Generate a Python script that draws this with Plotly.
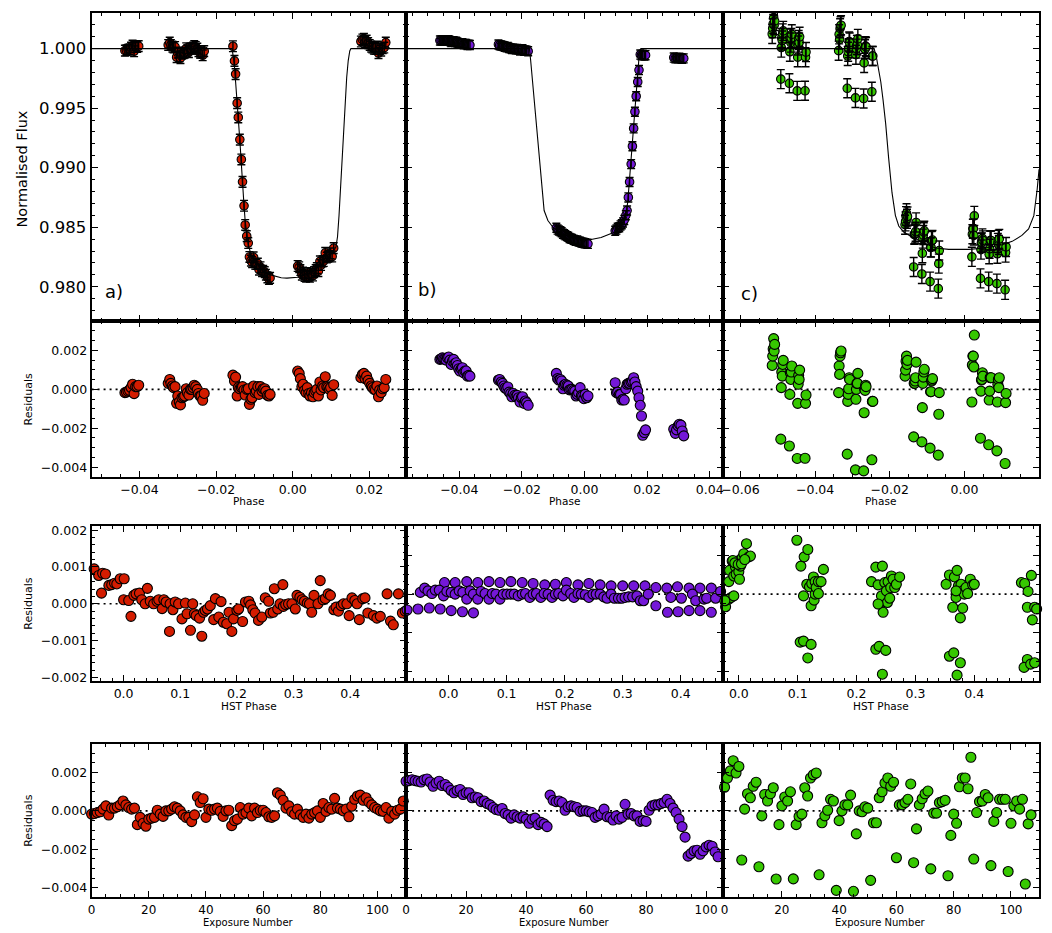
import plotly.graph_objects as go

# ======================= DATA =======================
# ---- a) red ----
RED_PHASE = [-0.0438, -0.0434, -0.0430, -0.0426, -0.0422, -0.0418, -0.0414, -0.0410, -0.0406, -0.0402,
             -0.0325, -0.0321, -0.0318, -0.0314, -0.0311, -0.0307, -0.0303, -0.0300, -0.0296, -0.0293,
             -0.0289, -0.0285, -0.0282, -0.0278, -0.0275, -0.0271, -0.0267, -0.0264, -0.0260, -0.0257,
             -0.0253, -0.0249, -0.0246, -0.0242, -0.0239, -0.0235, -0.0231,
             -0.0156, -0.0152, -0.0149, -0.0145, -0.0142, -0.0138, -0.0134, -0.0131, -0.0127, -0.0124,
             -0.0120, -0.0116, -0.0113, -0.0109, -0.0106, -0.0102, -0.0098, -0.0095, -0.0091, -0.0088,
             -0.0084, -0.0080, -0.0077, -0.0073, -0.0070, -0.0066, -0.0062, -0.0059,
             0.0013, 0.0017, 0.0020, 0.0024, 0.0027, 0.0031, 0.0035, 0.0038, 0.0042, 0.0045,
             0.0049, 0.0053, 0.0056, 0.0060, 0.0063, 0.0067, 0.0071, 0.0074, 0.0078, 0.0081,
             0.0085, 0.0089, 0.0092, 0.0096, 0.0099, 0.0103, 0.0107,
             0.0178, 0.0182, 0.0186, 0.0189, 0.0193, 0.0197, 0.0201, 0.0205, 0.0208, 0.0212,
             0.0216, 0.0220, 0.0224, 0.0227, 0.0231, 0.0235, 0.0239, 0.0243]
RED_FLUX = [0.99983, 0.99986, 0.99991, 0.99995, 1.00009, 1.00026, 0.99978, 1.00014, 1.00014, 1.00021,
            1.00031, 1.00051, 1.00031, 1.00017, 1.00009, 1.00014, 0.99928, 0.99966, 0.99935, 0.99920,
            0.99957, 0.99962, 0.99966, 1.00003, 0.99983, 0.99971, 1.00000, 1.00000, 1.00009, 1.00021,
            1.00014, 1.00000, 0.99979, 0.99966, 0.99966, 0.99944, 0.99979,
            1.00020, 0.99897, 0.99786, 0.99542, 0.99422, 0.99236, 0.99069, 0.98881, 0.98680, 0.98519,
            0.98425, 0.98367, 0.98250, 0.98219, 0.98207, 0.98247, 0.98193, 0.98191, 0.98194, 0.98144,
            0.98164, 0.98131, 0.98133, 0.98123, 0.98101, 0.98079, 0.98066, 0.98074,
            0.98174, 0.98164, 0.98140, 0.98102, 0.98118, 0.98091, 0.98084, 0.98115, 0.98091, 0.98084,
            0.98108, 0.98094, 0.98123, 0.98139, 0.98156, 0.98131, 0.98213, 0.98182, 0.98213, 0.98216,
            0.98284, 0.98245, 0.98253, 0.98257, 0.98280, 0.98254, 0.98324,
            1.00060, 1.00077, 1.00082, 1.00055, 1.00068, 1.00046, 1.00031, 1.00017, 1.00009, 1.00000,
            0.99997, 1.00017, 0.99962, 0.99997, 0.99983, 1.00003, 1.00009, 1.00051]
RED_RES = [-0.00017, -0.00014, -0.00009, -0.00005, 0.00009, 0.00026, -0.00022, 0.00014, 0.00014, 0.00021,
           0.00031, 0.00051, 0.00031, 0.00017, 0.00009, 0.00014, -0.00072, -0.00034, -0.00065, -0.00080,
           -0.00043, -0.00038, -0.00034, 0.00003, -0.00017, -0.00029, 0.00000, 0.00000, 0.00009, 0.00021,
           0.00014, 0.00000, -0.00021, -0.00034, -0.00034, -0.00056, -0.00021, 0.00073, 0.00043, 0.00063,
           -0.00034, 0.00009, 0.00003, 0.00009, 0.00014, -0.00003, -0.00029, 0.00000, 0.00003, -0.00077,
           -0.00051, -0.00043, 0.00017, -0.00017, -0.00009, 0.00014, -0.00026, 0.00014, -0.00009, 0.00003,
           0.00003, -0.00009, -0.00031, -0.00034, -0.00026, 0.00094, 0.00082, 0.00055, 0.00014, 0.00026,
           -0.00005, -0.00017, 0.00009, -0.00021, -0.00034, -0.00017, -0.00038, -0.00017, -0.00009, 0.00000,
           -0.00034, 0.00038, -0.00003, 0.00017, 0.00009, 0.00065, 0.00014, 0.00009, 0.00000, 0.00009,
           -0.00031, 0.00024, 0.00060, 0.00077, 0.00082, 0.00055, 0.00068, 0.00046, 0.00031, 0.00017,
           0.00009, 0.00000, -0.00003, 0.00017, -0.00038, -0.00003, -0.00017, 0.00003, 0.00009, 0.00051]
RED_MODEL_PHASE = [-0.0525, -0.0158, -0.0156, -0.0152, -0.0149, -0.0145, -0.0142, -0.0138, -0.0134, -0.0131,
                   -0.0127, -0.0124, -0.0120, -0.0116, -0.0113, -0.0109, -0.0102, -0.0095, -0.0088, -0.0080,
                   -0.0070, -0.0059, -0.0045, -0.0030, -0.0015, 0.0000, 0.0013, 0.0027, 0.0042, 0.0056,
                   0.0071, 0.0085, 0.0099, 0.0107, 0.0113, 0.0117, 0.0121, 0.0125, 0.0129, 0.0133,
                   0.0137, 0.0141, 0.0145, 0.0149, 0.0152, 0.0296]
RED_MODEL_FLUX = [1.0, 1.0, 0.9995, 0.9985, 0.9972, 0.9958, 0.9941, 0.9923, 0.9906, 0.9887,
                  0.9868, 0.9855, 0.9843, 0.9836, 0.9832, 0.9827, 0.9823, 0.9820, 0.9817, 0.9814,
                  0.9811, 0.9810, 0.98085, 0.98075, 0.98072, 0.98073, 0.98080, 0.98092, 0.98112, 0.98140,
                  0.98175, 0.98219, 0.98271, 0.98300, 0.98335, 0.9842, 0.9860, 0.9884, 0.9910, 0.9936,
                  0.9958, 0.9976, 0.9990, 0.9998, 1.0, 1.0]
RED_HST_PHASE = [-0.057, -0.052, -0.044, -0.039, -0.037, -0.032, -0.026, -0.021, -0.016, -0.012,
                 -0.006, 0.001, 0.000, 0.009, 0.013, 0.018, 0.022, 0.028, 0.032, 0.038,
                 0.042, 0.047, 0.053, 0.059, 0.062, 0.068, 0.071, 0.075, 0.081, 0.082,
                 0.087, 0.091, 0.097, 0.103, 0.109, 0.112, 0.118, 0.122, 0.125, 0.128,
                 0.134, 0.138, 0.141, 0.144, 0.148, 0.153, 0.159, 0.162, 0.168, 0.172,
                 0.176, 0.182, 0.186, 0.191, 0.194, 0.200, 0.203, 0.210, 0.215, 0.221,
                 0.224, 0.228, 0.232, 0.238, 0.244, 0.250, 0.256, 0.259, 0.264, 0.266,
                 0.272, 0.276, 0.281, 0.282, 0.286, 0.291, 0.297, 0.303, 0.306, 0.311,
                 0.315, 0.319, 0.324, 0.328, 0.332, 0.336, 0.343, 0.347, 0.352, 0.356,
                 0.361, 0.365, 0.371, 0.375, 0.379, 0.384, 0.388, 0.394, 0.398, 0.403,
                 0.408, 0.412, 0.416, 0.422, 0.426, 0.431, 0.441, 0.447, 0.453, 0.465,
                 0.471, 0.476, 0.485, 0.492, 0.497, 0.501]
RED_HST_RES = [0.00036, 0.00095, 0.00077, 0.00029, 0.00083, 0.00081, 0.00050, 0.00052, 0.00056, 0.00054,
               0.00068, 0.00068, 0.00011, 0.00009, -0.00034, 0.00023, 0.00027, 0.00029, 0.00011, 0.00000,
               0.00042, 0.00007, 0.00000, 0.00007, 0.00011, -0.00013, 0.00011, 0.00005, -0.00075, 0.00000,
               -0.00016, 0.00005, 0.00000, -0.00041, 0.00002, -0.00027, -0.00072, 0.00000, -0.00027, -0.00032,
               -0.00039, -0.00088, -0.00023, -0.00018, -0.00014, -0.00005, -0.00043, 0.00014, -0.00036, 0.00006,
               -0.00050, -0.00054, -0.00023, -0.00075, -0.00041, -0.00018, -0.00014, -0.00048, 0.00005, 0.00007,
               -0.00003, -0.00016, -0.00025, -0.00045, -0.00036, 0.00016, 0.00007, -0.00025, -0.00023, 0.00041,
               -0.00014, 0.00000, 0.00052, -0.00007, -0.00002, 0.00000, 0.00000, -0.00014, 0.00023, 0.00018,
               0.00011, 0.00007, 0.00002, 0.00000, -0.00023, 0.00023, 0.00000, 0.00063, 0.00011, 0.00014,
               0.00027, 0.00023, -0.00016, -0.00009, -0.00020, -0.00005, 0.00000, 0.00000, -0.00032, 0.00016,
               0.00009, 0.00000, -0.00043, 0.00014, 0.00016, -0.00025, -0.00032, -0.00039, -0.00034, 0.00027,
               -0.00047, -0.00057, 0.00027, -0.00025, -0.00020, 0.00027]
RED_ERR = 0.00045

# ---- b) purple ----
PUR_PHASE = [-0.0462, -0.0458, -0.0454, -0.0450, -0.0446, -0.0442, -0.0438, -0.0434, -0.0430, -0.0426,
             -0.0422, -0.0418, -0.0414, -0.0410, -0.0406, -0.0402, -0.0398, -0.0394, -0.0390, -0.0386,
             -0.0382, -0.0378, -0.0374, -0.0370, -0.0366,
             -0.0275, -0.0271, -0.0266, -0.0262, -0.0258, -0.0254, -0.0249, -0.0245, -0.0241, -0.0236,
             -0.0232, -0.0228, -0.0223, -0.0219, -0.0215, -0.0211, -0.0206, -0.0202, -0.0198, -0.0193,
             -0.0189, -0.0185, -0.0180,
             -0.0090, -0.0086, -0.0082, -0.0077, -0.0073, -0.0069, -0.0065, -0.0061, -0.0056, -0.0052,
             -0.0048, -0.0044, -0.0040, -0.0035, -0.0031, -0.0027, -0.0023, -0.0019, -0.0014, -0.0010,
             -0.0006, -0.0002, 0.0002, 0.0007, 0.0011,
             0.0098, 0.0102, 0.0106, 0.0111, 0.0115, 0.0119, 0.0123, 0.0127, 0.0132, 0.0136,
             0.0140, 0.0144, 0.0149, 0.0153, 0.0157, 0.0161, 0.0165, 0.0170, 0.0174, 0.0178,
             0.0182, 0.0186, 0.0191, 0.0195,
             0.0285, 0.0290, 0.0294, 0.0299, 0.0303, 0.0308, 0.0312, 0.0317]
PUR_FLUX = [1.00068, 1.00069, 1.00071, 1.00069, 1.00067, 1.00066, 1.00069, 1.00070, 1.00064, 1.00056,
            1.00061, 1.00063, 1.00056, 1.00057, 1.00052, 1.00046, 1.00042, 1.00045, 1.00046, 1.00037,
            1.00040, 1.00039, 1.00031, 1.00032, 1.00030,
            1.00035, 1.00028, 1.00027, 1.00023, 1.00020, 1.00015, 1.00011, 1.00013, 1.00005, 1.00002,
            0.99997, 1.00000, 0.99997, 0.99995, 0.99997, 0.99993, 0.99985, 0.99992, 0.99994, 0.99982,
            0.99985, 0.99983, 0.99978,
            0.98495, 0.98480, 0.98472, 0.98466, 0.98458, 0.98445, 0.98440, 0.98432, 0.98425, 0.98420,
            0.98410, 0.98405, 0.98402, 0.98395, 0.98390, 0.98385, 0.98388, 0.98380, 0.98378, 0.98372,
            0.98370, 0.98368, 0.98365, 0.98362, 0.98360,
            0.98470, 0.98480, 0.98495, 0.98500, 0.98515, 0.98525, 0.98540, 0.98560, 0.98600, 0.98640,
            0.98750, 0.98880, 0.99030, 0.99180, 0.99330, 0.99470, 0.99600, 0.99720, 0.99820, 0.99950,
            0.99945, 0.99948, 0.99942, 0.99945,
            0.99925, 0.99920, 0.99922, 0.99918, 0.99924, 0.99920, 0.99915, 0.99918]
PUR_RES = [0.00154, 0.00157, 0.00162, 0.00157, 0.00154, 0.00150, 0.00162, 0.00166, 0.00150, 0.00128,
           0.00145, 0.00154, 0.00132, 0.00137, 0.00123, 0.00106, 0.00094, 0.00106, 0.00111, 0.00085,
           0.00094, 0.00094, 0.00068, 0.00072, 0.00068, 0.00048, 0.00051, 0.00038, 0.00031, 0.00017,
           0.00007, 0.00003, 0.00012, -0.00014, -0.00021, -0.00038, -0.00021, -0.00031, -0.00038, -0.00031,
           -0.00043, -0.00065, -0.00043, -0.00038, -0.00072, -0.00060, -0.00068, -0.00082,
           0.00082, 0.00055, 0.00048, 0.00051, 0.00043, 0.00003, 0.00021, 0.00026, 0.00021, 0.00017,
           -0.00003, 0.00000, 0.00000, -0.00005, -0.00009, -0.00034, -0.00026, -0.00017, 0.00009, -0.00031,
           -0.00034, -0.00048, -0.00026, -0.00043, -0.00034,
           0.00034, -0.00017, -0.00014, -0.00026, -0.00026, -0.00055, -0.00051, -0.00055,
           0.00003, 0.00026, 0.00031, 0.00031, 0.00038, 0.00043, 0.00060, 0.00038, 0.00014, -0.00009,
           -0.00043, -0.00082, -0.00137, -0.00236, -0.00222, -0.00208,
           -0.00205, -0.00226, -0.00208, -0.00188, -0.00179, -0.00184, -0.00214, -0.00239]
PUR_MODEL_PHASE = [-0.057, -0.0176, -0.0172, -0.0129, -0.0117, -0.0101, -0.0079, -0.0053, -0.0011, 0.0021,
                   0.0053, 0.0095, 0.0117, 0.0129, 0.0138, 0.0175, 0.0180, 0.0441]
PUR_MODEL_FLUX = [1.0, 1.0, 0.9990, 0.9864, 0.98556, 0.9850, 0.98453, 0.98425, 0.98397, 0.98397,
                  0.98414, 0.98458, 0.9850, 0.9857, 0.98708, 0.99958, 1.0, 1.0]
PUR_HST_PHASE = [-0.0069, 0.0114, 0.0314, 0.0503, 0.0697, 0.0886, 0.1074, 0.1269, 0.1457, 0.1657,
                 0.1840, 0.2029, 0.2229, 0.2417, 0.2611, 0.2800, 0.3000, 0.3189, 0.3383, 0.3571,
                 0.3760, 0.3943, 0.4143, 0.4331, 0.4526,
                 -0.0486, -0.0411, -0.0354, -0.0286, -0.0229, -0.0160, -0.0086, -0.0029, 0.0046, 0.0114,
                 0.0183, 0.0246, 0.0314, 0.0371, 0.0429, 0.0503, 0.0560, 0.0629, 0.0697, 0.0754,
                 0.0817, 0.0886, 0.0943, 0.1006, 0.1074, 0.1131, 0.1200, 0.1269, 0.1326, 0.1400,
                 0.1457, 0.1514, 0.1589, 0.1646, 0.1714, 0.1783, 0.1840, 0.1897, 0.1971, 0.2029,
                 0.2103, 0.2160, 0.2229, 0.2286, 0.2354, 0.2417, 0.2486, 0.2543, 0.2611, 0.2674,
                 0.2731, 0.2800, 0.2857, 0.2926, 0.2983, 0.3040, 0.3103, 0.3171, 0.3246, 0.3303,
                 0.3360, 0.3440, 0.3571, 0.3829, 0.4011, 0.4200, 0.4257, 0.4400, 0.4446, 0.4600,
                 0.4686,
                 -0.0714, -0.0526, -0.0331, -0.0143, 0.0046, 0.0240, 0.0429, 0.3771, 0.3954, 0.4143,
                 0.4331, 0.4526]
PUR_HST_RES = [0.00060, 0.00060, 0.00065, 0.00060, 0.00065, 0.00060, 0.00065, 0.00060, 0.00055, 0.00048,
               0.00051, 0.00060, 0.00048, 0.00055, 0.00048, 0.00043, 0.00043, 0.00043, 0.00043, 0.00034,
               0.00031, 0.00038, 0.00031, 0.00031, 0.00031,
               0.00009, 0.00031, 0.00017, 0.00003, 0.00021, 0.00021, -0.00009, 0.00014, 0.00009, 0.00000,
               0.00017, 0.00009, -0.00026, 0.00017, 0.00000, -0.00026, 0.00014, 0.00003, -0.00026, 0.00003,
               0.00000, -0.00026, 0.00000, 0.00000, 0.00000, 0.00000, -0.00009, 0.00000, 0.00003, -0.00017,
               0.00000, 0.00003, -0.00017, 0.00003, 0.00000, -0.00017, 0.00000, 0.00003, -0.00009, 0.00021,
               0.00003, -0.00017, 0.00003, 0.00000, -0.00003, -0.00017, 0.00000, 0.00000, 0.00000, -0.00014,
               -0.00021, 0.00000, -0.00021, -0.00021, -0.00021, -0.00017, -0.00014, -0.00014, -0.00009, -0.00034,
               -0.00034, 0.00000, -0.00060, -0.00017, -0.00021, 0.00000, -0.00034, -0.00026, -0.00021, -0.00021,
               0.00014,
               -0.00082, -0.00077, -0.00072, -0.00077, -0.00085, -0.00091, -0.00097, -0.00094, -0.00091, -0.00085,
               -0.00085, -0.00094]
PUR_ERR = 0.00038

# ---- c) green ----
GRN_PHASE = [-0.05150, -0.05137, -0.05124, -0.05111, -0.05098, -0.05085,
             -0.04920, -0.04907, -0.04894, -0.04881, -0.04868, -0.04855,
             -0.04690, -0.04677, -0.04664, -0.04651, -0.04638, -0.04625,
             -0.04480, -0.04467, -0.04454, -0.04441, -0.04428, -0.04415,
             -0.04270, -0.04257, -0.04244,
             -0.03370, -0.03357, -0.03344, -0.03331, -0.03318, -0.03305,
             -0.03140, -0.03127, -0.03114, -0.03101, -0.03088, -0.03075,
             -0.02920, -0.02907, -0.02894, -0.02881, -0.02868, -0.02855,
             -0.02700, -0.02687, -0.02674, -0.02661, -0.02648, -0.02635,
             -0.02480, -0.02467, -0.02454,
             -0.01590, -0.01577, -0.01564, -0.01551, -0.01538, -0.01525,
             -0.01360, -0.01347, -0.01334, -0.01321, -0.01308, -0.01295,
             -0.01140, -0.01127, -0.01114, -0.01101, -0.01088, -0.01075,
             -0.00920, -0.00907, -0.00894, -0.00881, -0.00868, -0.00855,
             -0.00700, -0.00687, -0.00674,
             0.00200, 0.00213, 0.00226, 0.00239, 0.00252, 0.00265,
             0.00430, 0.00443, 0.00456, 0.00469, 0.00482, 0.00495,
             0.00650, 0.00663, 0.00676, 0.00689, 0.00702, 0.00715,
             0.00870, 0.00883, 0.00896, 0.00909, 0.00922, 0.00935,
             0.01090, 0.01103, 0.01116]
GRN_FLUX = [1.00123, 1.00171, 1.00208, 1.00261, 1.00197, 1.00231,
            0.99744, 1.00009, 1.00089, 1.00068, 1.00128, 1.00149,
            0.99709, 0.99974, 1.00085, 1.00051, 1.00089, 1.00120,
            0.99645, 0.99928, 1.00026, 1.00072, 1.00051, 1.00099,
            0.99646, 0.99928, 0.99971,
            0.99983, 1.00120, 1.00077, 1.00171, 1.00188, 1.00197,
            0.99667, 0.99938, 0.99974, 1.00003, 1.00060, 1.00051,
            0.99586, 0.99949, 1.00000, 1.00031, 1.00031, 1.00082,
            0.99581, 0.99880, 1.00000, 0.99995, 1.00021, 1.00014,
            0.99638, 0.99938, 0.99938,
            0.98521, 0.98549, 0.98593, 0.98617, 0.98571, 0.98590,
            0.98166, 0.98439, 0.98437, 0.98447, 0.98462, 0.98540,
            0.98107, 0.98281, 0.98404, 0.98434, 0.98458, 0.98470,
            0.98043, 0.98331, 0.98330, 0.98383, 0.98387, 0.98392,
            0.97984, 0.98194, 0.98304,
            0.98251, 0.98441, 0.98487, 0.98487, 0.98431, 0.98595,
            0.98070, 0.98312, 0.98369, 0.98372, 0.98406, 0.98389,
            0.98043, 0.98273, 0.98319, 0.98388, 0.98388, 0.98388,
            0.98026, 0.98277, 0.98368, 0.98393, 0.98351, 0.98402,
            0.97974, 0.98287, 0.98334]
GRN_RES = [0.00123, 0.00171, 0.00208, 0.00261, 0.00197, 0.00231,
           -0.00256, 0.00009, 0.00089, 0.00068, 0.00128, 0.00149,
           -0.00291, -0.00026, 0.00085, 0.00051, 0.00089, 0.00120,
           -0.00355, -0.00072, 0.00026, 0.00072, 0.00051, 0.00099,
           -0.00354, -0.00072, -0.00029,
           -0.00017, 0.00120, 0.00077, 0.00171, 0.00188, 0.00197,
           -0.00333, -0.00062, -0.00026, 0.00003, 0.00060, 0.00051,
           -0.00414, -0.00051, 0.00000, 0.00031, 0.00031, 0.00082,
           -0.00419, -0.00120, 0.00000, -0.00005, 0.00021, 0.00014,
           -0.00362, -0.00062, -0.00062,
           0.00068, 0.00099, 0.00145, 0.00171, 0.00128, 0.00149,
           -0.00244, 0.00031, 0.00031, 0.00043, 0.00060, 0.00140,
           -0.00270, -0.00094, 0.00031, 0.00063, 0.00089, 0.00103,
           -0.00302, -0.00012, -0.00012, 0.00043, 0.00048, 0.00055,
           -0.00338, -0.00128, -0.00017,
           -0.00065, 0.00125, 0.00171, 0.00171, 0.00115, 0.00279,
           -0.00251, -0.00009, 0.00048, 0.00051, 0.00085, 0.00068,
           -0.00285, -0.00055, -0.00009, 0.00060, 0.00060, 0.00060,
           -0.00316, -0.00065, 0.00026, 0.00051, 0.00009, 0.00060,
           -0.00381, -0.00068, -0.00021]
GRN_MODEL_PHASE = [-0.065, -0.0242, -0.0236, -0.0230, -0.0224, -0.0218, -0.0211, -0.0203, -0.0194, -0.0185,
                   -0.0176, -0.0162, -0.0140, -0.0113, -0.0078, -0.0042, 0.0012, 0.0056, 0.0101, 0.0128,
                   0.0154, 0.0172, 0.0186, 0.0195, 0.0200]
GRN_MODEL_FLUX = [1.0, 1.0, 0.9993, 0.9982, 0.9972, 0.9957, 0.9937, 0.9908, 0.9879, 0.9860,
                  0.9851, 0.98458, 0.98417, 0.98375, 0.98325, 0.98314, 0.98314, 0.98325, 0.98353, 0.98381,
                  0.98431, 0.98486, 0.98597, 0.98819, 0.98986]
GRN_HST_PHASE = [-0.0225, -0.0169, -0.0130, -0.0085, -0.0237, -0.0169, -0.0158, -0.0113, -0.0085, -0.0056,
                 -0.0045, -0.0028, 0.0000, 0.0011, 0.0028, 0.0056, 0.0085, 0.0130, 0.0169, 0.0197,
                 -0.0101, -0.0068, -0.0011, 0.0045, 0.0101,
                 0.0986, 0.1054, 0.1110, 0.1172, 0.1099, 0.1155, 0.1200, 0.1228, 0.1239, 0.1268,
                 0.1279, 0.1296, 0.1296, 0.1313, 0.1352, 0.1352, 0.1397, 0.1437, 0.1042, 0.1099,
                 0.1228, 0.1172,
                 0.2254, 0.2327, 0.2439, 0.2366, 0.2394, 0.2423, 0.2451, 0.2479, 0.2507, 0.2524,
                 0.2535, 0.2563, 0.2580, 0.2592, 0.2620, 0.2648, 0.2676, 0.2732, 0.2366, 0.2327,
                 0.2383, 0.2496, 0.2439,
                 0.3521, 0.3577, 0.3662, 0.3707, 0.3634, 0.3690, 0.3730, 0.3763, 0.3803, 0.3775,
                 0.3803, 0.3831, 0.3859, 0.3887, 0.3932, 0.3972, 0.4000, 0.3690, 0.3577, 0.3651,
                 0.3763, 0.3707,
                 0.4800, 0.4856, 0.4913, 0.4969, 0.4901, 0.5025, 0.4986, 0.5059, 0.4901, 0.4845,
                 0.4958, 0.5025]
GRN_HST_RES = [-0.00065, -0.00026, -0.00017, -0.00009, -0.00034, 0.00065, 0.00123, 0.00171, 0.00094, 0.00140,
               0.00103, 0.00171, 0.00116, 0.00077, 0.00145, 0.00188, 0.00209, 0.00261, 0.00193, 0.00197,
               0.00174, 0.00162, 0.00154, 0.00157, 0.00179,
               0.00279, 0.00145, 0.00193, 0.00231, -0.00009, 0.00051, 0.00038, -0.00060, 0.00055, 0.00089,
               -0.00031, 0.00065, 0.00000, 0.00034, 0.00065, 0.00003, 0.00065, 0.00128, -0.00248, -0.00243,
               -0.00260, -0.00330,
               0.00065, 0.00140, 0.00145, 0.00048, -0.00051, -0.00009, -0.00094, 0.00060, 0.00017, -0.00043,
               0.00065, -0.00021, 0.00034, 0.00094, 0.00077, 0.00034, 0.00051, 0.00089, -0.00051, -0.00285,
               -0.00270, -0.00291, -0.00414,
               0.00051, 0.00099, 0.00089, 0.00123, -0.00068, -0.00017, 0.00043, -0.00123, -0.00072, 0.00051,
               0.00017, 0.00000, 0.00034, 0.00003, 0.00077, 0.00048, 0.00051, 0.00017, -0.00321, -0.00304,
               -0.00355, -0.00419,
               0.00060, 0.00055, 0.00014, 0.00097, -0.00068, -0.00068, -0.00133, -0.00077, -0.00338, -0.00379,
               -0.00362, -0.00355]
GRN_ERR = 0.0008

# exposure numbers
RED_EXPO = list(range(len(RED_RES)))
PUR_EXPO = list(range(len(PUR_RES)))
GRN_EXPO = list(range(len(GRN_RES)))

# tick values
FLUX_TICKS = [0.980, 0.985, 0.990, 0.995, 1.000]
RES_TICKS = [-0.004, -0.002, 0.000, 0.002]
HST_RES_TICKS = [-0.002, -0.001, 0.000, 0.001, 0.002]
PHASE_TICKS = [[-0.04, -0.02, 0.00, 0.02], [-0.04, -0.02, 0.00, 0.02, 0.04], [-0.06, -0.04, -0.02, 0.00, 0.02]]
HST_TICKS = [0.0, 0.1, 0.2, 0.3, 0.4]
EXPO_TICKS = [0, 20, 40, 60, 80, 100]

# ======================= STYLE / LAYOUT =======================
W, H = 1052, 933
FONT = 'DejaVu Sans'
COLORS = ['#d41c00', '#7418d8', '#36c800']
COLS = [(88, 404), (404, 722), (722, 1040)]
ROWS = [(9, 320), (320, 477), (527, 683), (746, 901)]

PHASE_RANGE = [[-0.0525, 0.0296], [-0.057, 0.0441], [-0.0648, 0.0200]]
HST_RANGE = [[-0.0565, 0.4985], [-0.0731, 0.472], [-0.0276, 0.510]]
EXPO_RANGE = [[0, 110], [0, 105.5], [-0.7, 109.8]]
FLUX_RANGE = [0.9771, 1.0030]
RES_RANGE = [-0.0045, 0.0035]
HST_RES_RANGE_A = [-0.0021, 0.0021]


def xd(c):
    return [COLS[c][0] / W, COLS[c][1] / W]


def yd(r):
    return [1 - ROWS[r][1] / H, 1 - ROWS[r][0] / H]


def name(r, c):
    i = r * 3 + c + 1
    return ('x' if i == 1 else f'x{i}'), ('y' if i == 1 else f'y{i}'), ('xaxis' if i == 1 else f'xaxis{i}'), ('yaxis' if i == 1 else f'yaxis{i}')


def axis(domain, rng, anchor, tickvals, fmt, minor_dtick, minor_tick0, labels=True, fsize=12.5):
    return dict(domain=domain, range=rng, anchor=anchor, showline=True, linecolor='black', linewidth=1.9,
                mirror='allticks', ticks='inside', ticklen=6, tickwidth=1.4, tickcolor='black',
                showgrid=False, zeroline=False, showticklabels=labels, tickmode='array', tickvals=tickvals,
                tickformat=fmt, tickfont=dict(family=FONT, size=fsize, color='black'),
                minor=dict(ticks='inside', ticklen=3, tickwidth=1.2, tickcolor='black', showgrid=False,
                           tickmode='linear', tick0=minor_tick0, dtick=minor_dtick))


fig = go.Figure()
layout = {}
shapes = []

for r in range(4):
    for c in range(3):
        xn, yn, xk, yk = name(r, c)
        if r == 0:
            layout[xk] = axis(xd(c), PHASE_RANGE[c], yn, PHASE_TICKS[c], '.2f', 0.005, 0, labels=False)
            layout[yk] = axis(yd(r), FLUX_RANGE, xn, FLUX_TICKS, '.3f', 0.001, 0, labels=(c == 0), fsize=16.5)
        elif r == 1:
            layout[xk] = axis(xd(c), PHASE_RANGE[c], yn, PHASE_TICKS[c], '.2f', 0.005, 0)
            layout[yk] = axis(yd(r), RES_RANGE, xn, RES_TICKS, '.3f', 0.0005, 0, labels=(c == 0))
        elif r == 2:
            layout[xk] = axis(xd(c), HST_RANGE[c], yn, HST_TICKS, '.1f', 0.02, 0)
            if c == 0:
                layout[yk] = axis(yd(r), HST_RES_RANGE_A, xn, HST_RES_TICKS, '.3f', 0.0002, 0)
            else:
                layout[yk] = axis(yd(r), RES_RANGE, xn, RES_TICKS, '.3f', 0.0005, 0, labels=False)
        else:
            layout[xk] = axis(xd(c), EXPO_RANGE[c], yn, EXPO_TICKS, 'd', 5, 0, fsize=12)
            layout[yk] = axis(yd(r), RES_RANGE, xn, RES_TICKS, '.3f', 0.0005, 0, labels=(c == 0))
        if r > 0:
            shapes.append(dict(type='line', xref=f'{xn} domain', x0=0, x1=1, yref=yn, y0=0, y1=0,
                               line=dict(color='black', width=1.6, dash='2px,4px'), layer='below'))


def add_pts(x, y, color, size, xn, yn, err=None, clip=False):
    fig.add_trace(go.Scatter(x=x, y=y, mode='markers', xaxis=xn, yaxis=yn, cliponaxis=clip,
                             marker=dict(color=color, size=size, line=dict(color='black', width=1.1)),
                             showlegend=False, hoverinfo='skip'))
    if err is not None:
        fig.add_trace(go.Scatter(x=x, y=y, mode='markers', xaxis=xn, yaxis=yn, cliponaxis=clip,
                                 marker=dict(color='rgba(0,0,0,0)', size=1),
                                 error_y=dict(type='constant', value=err, color='black', thickness=1.4, width=4),
                                 showlegend=False, hoverinfo='skip'))


SETS = [
    (RED_PHASE, RED_FLUX, RED_RES, RED_MODEL_PHASE, RED_MODEL_FLUX, RED_HST_PHASE, RED_HST_RES, RED_EXPO, RED_ERR),
    (PUR_PHASE, PUR_FLUX, PUR_RES, PUR_MODEL_PHASE, PUR_MODEL_FLUX, PUR_HST_PHASE, PUR_HST_RES, PUR_EXPO, PUR_ERR),
    (GRN_PHASE, GRN_FLUX, GRN_RES, GRN_MODEL_PHASE, GRN_MODEL_FLUX, GRN_HST_PHASE, GRN_HST_RES, GRN_EXPO, GRN_ERR),
]

for c, (ph, fl, res, mph, mfl, hph, hres, expo, err) in enumerate(SETS):
    col = COLORS[c]
    xn, yn, _, _ = name(0, c)
    add_pts(ph, fl, col, 8.5, xn, yn, err=err, clip=True)
    fig.add_trace(go.Scatter(x=mph, y=mfl, mode='lines', xaxis=xn, yaxis=yn, line=dict(color='black', width=1.1),
                             showlegend=False, hoverinfo='skip'))
    xn, yn, _, _ = name(1, c)
    add_pts(ph, res, col, 10, xn, yn)
    xn, yn, _, _ = name(2, c)
    add_pts(hph, hres, col, 10, xn, yn)
    xn, yn, _, _ = name(3, c)
    add_pts(expo, res, col, 10, xn, yn)

ann = []


def note(text, px, py, size, angle=0):
    ann.append(dict(text=text, x=px / W, y=1 - py / H, xref='paper', yref='paper', showarrow=False,
                    textangle=angle, font=dict(family=FONT, size=size, color='black'),
                    xanchor='center', yanchor='middle', borderpad=0))


note('Normalised Flux', 18, 166, 14.5, -90)
for cy in (399, 605, 824):
    note('Residuals', 25, cy, 11, -90)
for cx in (246, 563, 881):
    note('Phase', cx, 501, 10.5)
    note('HST Phase', cx, 708, 10.5)
    note('Exposure Number', cx, 926.5, 10)
note('a)', 111, 290, 18)
note('b)', 425, 288, 18)
note('c)', 749, 292, 18)

fig.update_layout(width=W, height=H, margin=dict(l=0, r=0, t=0, b=0), paper_bgcolor='white',
                  plot_bgcolor='white', showlegend=False, annotations=ann, shapes=shapes, **layout)

fig.write_html('out.html')
